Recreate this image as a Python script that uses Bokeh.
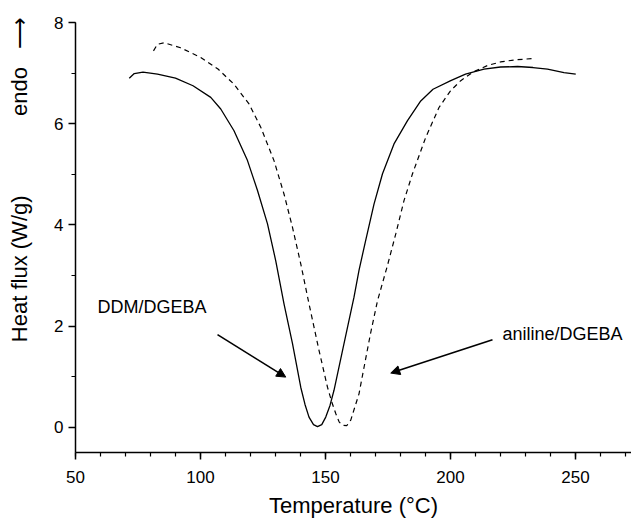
from bokeh.plotting import figure
from bokeh.models import Range1d, Label, Arrow, NormalHead, FixedTicker
from bokeh.embed import file_html
from bokeh.resources import INLINE

# DDM/DGEBA (solid)
ddm_T = [71.5, 73.5, 77, 82.8, 90, 97, 104.1, 108.1, 113.4, 118.8, 122.8, 126.8,
         130.1, 133.4, 136.8, 140.1, 141.8, 143.4, 145.2, 146.8, 148.5, 150.1,
         151.8, 153.4, 157.4, 161.4, 163.4, 166.1, 169.4, 172.8, 177.4, 182.8,
         188.1, 193, 200.1, 206, 213.4, 220, 226.8, 233, 238.8, 245.4, 250.1]
ddm_H = [6.90, 6.99, 7.02, 6.98, 6.90, 6.75, 6.52, 6.29, 5.86, 5.27, 4.68, 4.02,
         3.29, 2.44, 1.65, 0.79, 0.45, 0.20, 0.05, 0.01, 0.05, 0.20,
         0.43, 0.73, 1.65, 2.57, 3.10, 3.70, 4.41, 5.01, 5.60, 6.06,
         6.45, 6.68, 6.85, 6.98, 7.08, 7.12, 7.13, 7.11, 7.08, 7.01, 6.98]

# aniline/DGEBA (dashed)
ani_T = [81.2, 82.8, 85.5, 92, 100.1, 107, 113.4, 119.4, 124.1, 129.4, 133.4,
         136.8, 140.1, 143.4, 147.4, 150.8, 152.5, 154.1, 155.5, 156.8, 158.5,
         160.1, 163.4, 165.4, 168, 170.8, 174.8, 178.1, 181.4, 184.8, 190.1,
         195.4, 200, 204.1, 209, 214.8, 220, 225.5, 233.5]
ani_H = [7.44, 7.57, 7.60, 7.50, 7.31, 7.08, 6.78, 6.39, 5.93, 5.27, 4.61,
         3.95, 3.23, 2.44, 1.52, 0.79, 0.50, 0.27, 0.10, 0.04, 0.03,
         0.14, 0.66, 1.18, 1.85, 2.50, 3.20, 3.82, 4.48, 5.01, 5.73,
         6.32, 6.65, 6.85, 7.02, 7.15, 7.22, 7.26, 7.29]

x_ticks = [50, 100, 150, 200, 250]
y_ticks = [0, 2, 4, 6, 8]
x_minor = list(range(50, 271, 10))
y_minor = [0, 1, 2, 3, 4, 5, 6, 7, 8]

x_title = "Temperature (°C)"
y_title = "Heat flux (W/g)"
y_note = "endo"
y_arrow = "\u27f6"

FONT = "Liberation Sans"
NB = "\u00a0"

p = figure(width=631, height=520, output_backend="svg", toolbar_location=None,
           x_range=Range1d(50, 272.4), y_range=Range1d(-0.5, 8),
           min_border_left=75, min_border_right=0, min_border_top=22,
           min_border_bottom=68)
p.outline_line_color = None
p.grid.visible = False
p.background_fill_color = "white"
p.border_fill_color = "white"

for ax, ticks, minor in ((p.xaxis[0], x_ticks, x_minor), (p.yaxis[0], y_ticks, y_minor)):
    ax.ticker = FixedTicker(ticks=ticks, minor_ticks=minor)
    ax.axis_line_width = 1.5
    ax.axis_line_color = "black"
    ax.major_tick_line_width = 1.5
    ax.major_tick_line_color = "black"
    ax.minor_tick_line_width = 1.2
    ax.minor_tick_line_color = "black"
    ax.major_tick_out = 7
    ax.major_tick_in = 0
    ax.minor_tick_out = 4
    ax.minor_tick_in = 0
    ax.major_label_text_font = FONT
    ax.major_label_text_font_size = "17px"
    ax.major_label_text_color = "black"
    ax.axis_label_text_font = FONT
    ax.axis_label_text_font_size = "22px"
    ax.axis_label_text_font_style = "normal"
    ax.axis_label_text_color = "black"

p.xaxis.major_label_standoff = 11
p.yaxis.major_label_standoff = 5
p.xaxis.axis_label = x_title
p.xaxis.axis_label_standoff = 7
p.yaxis.axis_label = NB * 19 + y_title + NB * 13 + y_note + NB * 3 + y_arrow
p.yaxis.axis_label_standoff = 19

p.line(ddm_T, ddm_H, line_color="black", line_width=1.3)
p.line(ani_T, ani_H, line_color="black", line_width=1.2, line_dash="5 4")

p.add_layout(Label(x=58.8, y=2.37, text="DDM/DGEBA", text_font=FONT,
                   text_font_size="18px", text_baseline="middle", text_color="black"))
p.add_layout(Label(x=220.8, y=1.85, text="aniline/DGEBA", text_font=FONT,
                   text_font_size="18px", text_baseline="middle", text_color="black"))

p.add_layout(Arrow(end=NormalHead(size=9, fill_color="black", line_color="black"),
                   x_start=106.8, y_start=1.83, x_end=134.1, y_end=0.99,
                   line_width=1.6, line_color="black"))
p.add_layout(Arrow(end=NormalHead(size=9, fill_color="black", line_color="black"),
                   x_start=216.8, y_start=1.73, x_end=176.1, y_end=1.07,
                   line_width=1.6, line_color="black"))

open("out.html", "w").write(file_html(p, INLINE))
